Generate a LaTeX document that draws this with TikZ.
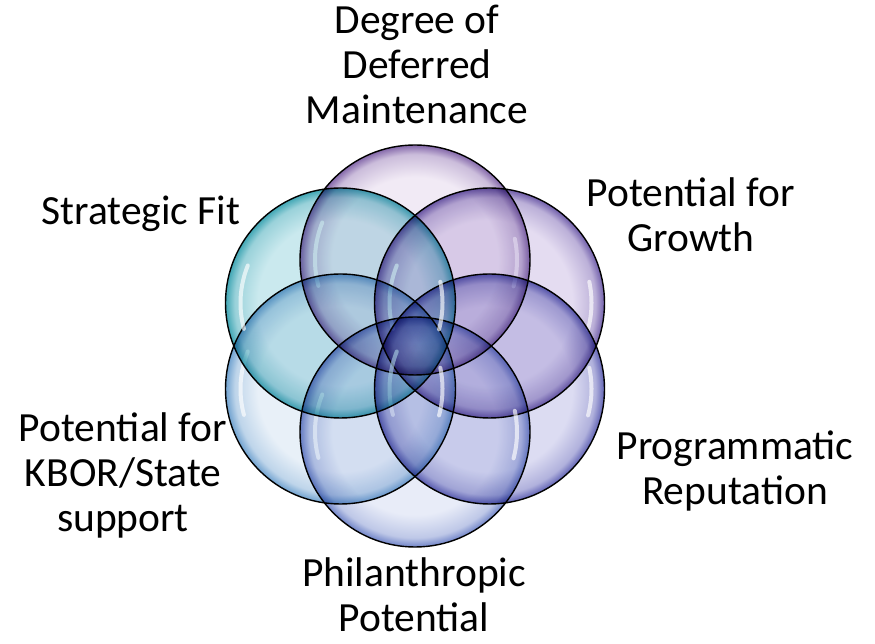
\documentclass[tikz,border=0pt]{standalone}
\usepackage{fontspec}
\setmainfont{Carlito}
\usepackage{xcolor}

\definecolor{bubin}{RGB}{255,255,255}
\definecolor{bubmid}{RGB}{200,200,200}
\definecolor{bubout}{RGB}{100,100,100}
\definecolor{ddmin}{RGB}{241,234,245}
\definecolor{ddmout}{RGB}{132,104,170}
\definecolor{grwin}{RGB}{228,220,241}
\definecolor{grwout}{RGB}{112,94,170}
\definecolor{repin}{RGB}{220,220,242}
\definecolor{repout}{RGB}{96,98,180}
\definecolor{philin}{RGB}{232,236,248}
\definecolor{philout}{RGB}{112,132,200}
\definecolor{kborin}{RGB}{232,240,248}
\definecolor{kborout}{RGB}{112,162,208}
\definecolor{fitin}{RGB}{202,233,238}
\definecolor{fitout}{RGB}{64,166,180}

\pgfdeclareradialshading[bubin,bubmid,bubout]{bubble}{\pgfpoint{0bp}{0bp}}{color(0bp)=(bubin); color(18bp)=(bubin); color(23bp)=(bubmid); color(25bp)=(bubout); color(50bp)=(bubout)}

\begin{document}
\begin{tikzpicture}[x=1pt,y=1pt,
	bubble/.style 2 args={/utils/exec={\colorlet{bubin}{#1}\colorlet{bubout}{#2}\colorlet{bubmid}{#1!65!#2}},
		shading=bubble, draw=black, line width=1.4pt},
	gloss/.style={blend mode=normal, white, opacity=0.65, line width=4pt, line cap=round},
	lbl/.style={font=\fontsize{41.5}{45}\selectfont, align=center, inner sep=0pt, anchor=base}]
	\useasboundingbox (0,0) rectangle (875,644);
	
	\coordinate (ddm) at (415,384);
	\coordinate (grw) at (489.5,341);
	\coordinate (rep) at (489.5,255);
	\coordinate (phil) at (415,212);
	\coordinate (kbor) at (340.5,255);
	\coordinate (fit) at (340.5,341);
	
	\begin{scope}[blend mode=multiply]
	\shadedraw[bubble={ddmin}{ddmout}] (ddm) circle (115pt);
	\draw[gloss] ([shift={(158:100pt)}]ddm) arc[start angle=158, end angle=195, radius=100pt];
	\draw[gloss] ([shift={(-15:102pt)}]ddm) arc[start angle=-15, end angle=12, radius=102pt];
	
	\shadedraw[bubble={grwin}{grwout}] (grw) circle (115pt);
	\draw[gloss] ([shift={(158:100pt)}]grw) arc[start angle=158, end angle=195, radius=100pt];
	\draw[gloss] ([shift={(-15:102pt)}]grw) arc[start angle=-15, end angle=12, radius=102pt];
	
	\shadedraw[bubble={repin}{repout}] (rep) circle (115pt);
	\draw[gloss] ([shift={(158:100pt)}]rep) arc[start angle=158, end angle=195, radius=100pt];
	\draw[gloss] ([shift={(-15:102pt)}]rep) arc[start angle=-15, end angle=12, radius=102pt];
	
	\shadedraw[bubble={philin}{philout}] (phil) circle (115pt);
	\draw[gloss] ([shift={(158:100pt)}]phil) arc[start angle=158, end angle=195, radius=100pt];
	\draw[gloss] ([shift={(-15:102pt)}]phil) arc[start angle=-15, end angle=12, radius=102pt];
	
	\shadedraw[bubble={kborin}{kborout}] (kbor) circle (115pt);
	\draw[gloss] ([shift={(158:100pt)}]kbor) arc[start angle=158, end angle=195, radius=100pt];
	\draw[gloss] ([shift={(-15:102pt)}]kbor) arc[start angle=-15, end angle=12, radius=102pt];
	
	\shadedraw[bubble={fitin}{fitout}] (fit) circle (115pt);
	\draw[gloss] ([shift={(158:100pt)}]fit) arc[start angle=158, end angle=195, radius=100pt];
	\draw[gloss] ([shift={(-15:102pt)}]fit) arc[start angle=-15, end angle=12, radius=102pt];
	\end{scope}
	
	\node[lbl] (maint) at (417,520) {Degree of\\Deferred\\Maintenance};
	\node[lbl] (fitlbl) at (141,419) {Strategic Fit};
	\node[lbl] (grwlbl) at (691,392) {Potential for\\Growth};
	\node[lbl] (kborlbl) at (123,112) {Potential for\\KBOR/State\\support};
	\node[lbl] (replbl) at (735,139) {Programmatic\\Reputation};
	\node[lbl] (phillbl) at (414,12) {Philanthropic\\Potential};
	
\end{tikzpicture}
\end{document}
